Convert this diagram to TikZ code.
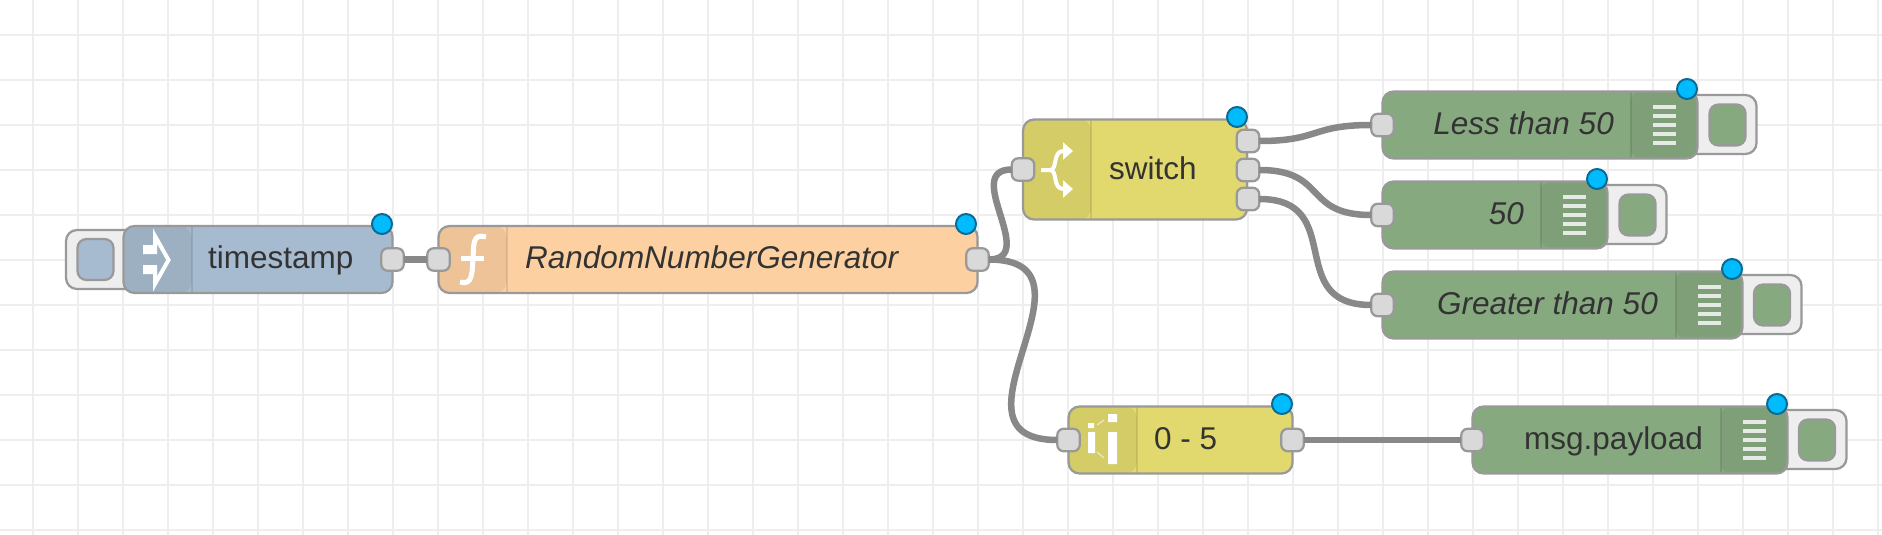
\documentclass[tikz,border=0pt]{standalone}
\usepackage{fontspec}
\setmainfont{Liberation Sans}
\usepackage{xcolor}
\usetikzlibrary{arrows.meta}
\definecolor{gridc}{HTML}{EEEEEE}
\definecolor{edgec}{HTML}{999999}
\definecolor{portc}{HTML}{D9D9D9}
\definecolor{wirec}{HTML}{888888}
\definecolor{textc}{HTML}{333333}
\definecolor{injectc}{HTML}{A6BBCF}
\definecolor{funcc}{HTML}{FDD0A2}
\definecolor{switchc}{HTML}{E2D96E}
\definecolor{debugc}{HTML}{87A980}
\definecolor{dotc}{HTML}{00BCFF}
\definecolor{dotedge}{HTML}{0A6A94}

\begin{document}
\begin{tikzpicture}[
  x=1pt, y=-1pt,
  nrbody/.style={draw=edgec, line width=2.25pt, rounded corners=11pt, outer sep=0pt, inner sep=0pt, minimum height=67pt},
  stripl/.style={path picture={
    \fill[black, opacity=.06] (path picture bounding box.north west) rectangle ([xshift=68pt]path picture bounding box.south west);
    \draw[black, opacity=.1, line width=2pt] ([xshift=68pt]path picture bounding box.north west) -- ([xshift=68pt]path picture bounding box.south west);}},
  stripr/.style={path picture={
    \fill[black, opacity=.06] (path picture bounding box.north east) rectangle ([xshift=-67pt]path picture bounding box.south east);
    \draw[black, opacity=.1, line width=2pt] ([xshift=-67pt]path picture bounding box.north east) -- ([xshift=-67pt]path picture bounding box.south east);}},
  port/.style={draw=edgec, fill=portc, line width=2.25pt, rounded corners=6.5pt, inner sep=0pt, outer sep=0pt, minimum size=22.5pt},
  statusdot/.style={circle, draw=dotedge, fill=dotc, line width=2pt, inner sep=0pt, minimum size=20pt},
  btn/.style={draw=edgec, fill=gridc, line width=2.25pt, rounded corners=11pt, inner sep=0pt, outer sep=0pt, minimum height=59pt},
  btnin/.style={draw=edgec, line width=2.25pt, rounded corners=9pt, inner sep=0pt, minimum width=36pt, minimum height=41pt},
  lbl/.style={text=textc, inner sep=0pt, font=\fontsize{31.5}{36}\selectfont},
  lblin/.style={lbl, anchor=base west},
  lblout/.style={lbl, anchor=base east},
  wire/.style={draw=wirec, line width=6.5pt},
  icon/.style={draw=white, line width=4pt},
  bars/.pic={\foreach \dy in {-18,-9,0,9,18} \fill[white, opacity=.8] (-11.5,\dy-2) rectangle (11.5,\dy+2);}
]
\useasboundingbox (0,0) rectangle (1882,535);
\fill[white] (0,0) rectangle (1882,535);
% grid
\foreach \gx in {0,...,41} \draw[gridc, line width=2pt] (32.7+45*\gx,0) -- (32.7+45*\gx,535);
\foreach \gy in {0,...,11} \draw[gridc, line width=2pt] (0,34.7+45*\gy) -- (1882,34.7+45*\gy);

% timestamp
\node[btn, minimum width=90pt] (tsbtn) at (111,259.5) {};
\node[btnin, fill=injectc] (tsbtnin) at (95.5,259.5) {};
\node[nrbody, stripl, fill=injectc, minimum width=269pt] (ts) at (258,259.5) {};
\fill[white] (143,245) rectangle (157,254) (143,265) rectangle (157,274);
\draw[icon, line join=miter] (155,247) -- (155,236) -- (168.5,260) -- (155,284) -- (155,272);
\node[lblin] (tslabel) at (208,268.5) {timestamp};
\node[port] (tsout) at (ts.east) {};
\node[statusdot] (tsdot) at (382,224) {};

% function
\node[nrbody, stripl, fill=funcc, minimum width=539pt] (fn) at (708,259.5) {};
\draw[icon, line width=5pt] (486,237) .. controls (472,233) and (474,245) .. (473,258) .. controls (472,272) and (473,286) .. (460,282);
\draw[icon, line width=5pt] (461,258) -- (484,258);
\node[lblin, font=\fontsize{31.5}{36}\selectfont\itshape] (fnlabel) at (525,268) {RandomNumberGenerator};
\node[port] (fnin) at (fn.west) {};
\node[port] (fnout) at (fn.east) {};
\node[statusdot] (fndot) at (966,224) {};

% switch
\node[nrbody, stripl, fill=switchc, minimum width=224pt, minimum height=100pt] (sw) at (1135,169.5) {};
\draw[icon, -{Triangle[length=10pt,width=17pt]}] (1041,170) -- (1050,170) .. controls (1058,170) and (1052,151) .. (1073,151);
\draw[icon, -{Triangle[length=10pt,width=17pt]}] (1050,170) .. controls (1058,170) and (1052,189) .. (1073,189);
\node[lblin] (swlabel) at (1109,179) {switch};
\node[port] (swin) at (sw.west) {};
\node[port] (swouta) at (1248,141) {};
\node[port] (swoutb) at (1248,170) {};
\node[port] (swoutc) at (1248,199) {};
\node[statusdot] (swdot) at (1237,117) {};

% range
\node[nrbody, stripl, fill=switchc, minimum width=224pt] (rng) at (1180.5,440) {};
\fill[white] (1088,432) rectangle (1095,453) (1088,423) rectangle (1094,428) (1108,432) rectangle (1117,464) (1108,414) rectangle (1117,422);
\draw[white, opacity=.6, line width=1.2pt] (1097,425) -- (1104,420) (1097,452) -- (1104,458);
\node[lblin] (rnglabel) at (1154,449) {0 - 5};
\node[port] (rngin) at (rng.west) {};
\node[port] (rngout) at (rng.east) {};
\node[statusdot] (rngdot) at (1282,404) {};

% debug nodes
\node[btn, minimum width=80pt] (lessbtn) at (1716.5,124.5) {};
\node[btnin, fill=debugc] (lessbtnin) at (1727.5,125) {};
\node[nrbody, stripr, fill=debugc, minimum width=315pt] (less) at (1540,125) {};
\pic at (1664.5,125) {bars};
\node[lblout, font=\fontsize{31.5}{36}\selectfont\itshape] (lesslabel) at (1614,134) {Less than 50};
\node[port] (lessin) at (less.west) {};
\node[statusdot] (lessdot) at (1687,89) {};

\node[btn, minimum width=80pt] (fiftybtn) at (1626.5,214.5) {};
\node[btnin, fill=debugc] (fiftybtnin) at (1637.5,215) {};
\node[nrbody, stripr, fill=debugc, minimum width=225pt] (fifty) at (1495,215) {};
\pic at (1574.5,215) {bars};
\node[lblout, font=\fontsize{31.5}{36}\selectfont\itshape] (fiftylabel) at (1524,224) {50};
\node[port] (fiftyin) at (fifty.west) {};
\node[statusdot] (fiftydot) at (1597,179) {};

\node[btn, minimum width=80pt] (morebtn) at (1761.5,304.5) {};
\node[btnin, fill=debugc] (morebtnin) at (1772,305) {};
\node[nrbody, stripr, fill=debugc, minimum width=360pt] (more) at (1562.5,305) {};
\pic at (1709.5,305) {bars};
\node[lblout, font=\fontsize{31.5}{36}\selectfont\itshape] (morelabel) at (1658,314) {Greater than 50};
\node[port] (morein) at (more.west) {};
\node[statusdot] (moredot) at (1732,269) {};

\node[btn, minimum width=80pt] (paybtn) at (1806.5,439.5) {};
\node[btnin, fill=debugc] (paybtnin) at (1817,440) {};
\node[nrbody, stripr, fill=debugc, minimum width=315pt] (pay) at (1630,440) {};
\pic at (1754,440) {bars};
\node[lblout] (paylabel) at (1703,449) {msg.payload};
\node[port] (payin) at (pay.west) {};
\node[statusdot] (paydot) at (1777,404) {};

% wires
\draw[wire] (tsout) -- (fnin);
\draw[wire] (fnout) .. controls +(62,0) and +(-62,0) .. (swin);
\draw[wire] (fnout) .. controls +(135,0) and +(-135,0) .. (rngin);
\draw[wire] (swouta) .. controls +(72,0) and +(-72,0) .. (lessin);
\draw[wire] (swoutb) .. controls +(80,0) and +(-80,0) .. (fiftyin);
\draw[wire] (swoutc) .. controls +(100,0) and +(-100,0) .. (morein);
\draw[wire] (rngout) -- (payin);
\end{tikzpicture}
\end{document}
